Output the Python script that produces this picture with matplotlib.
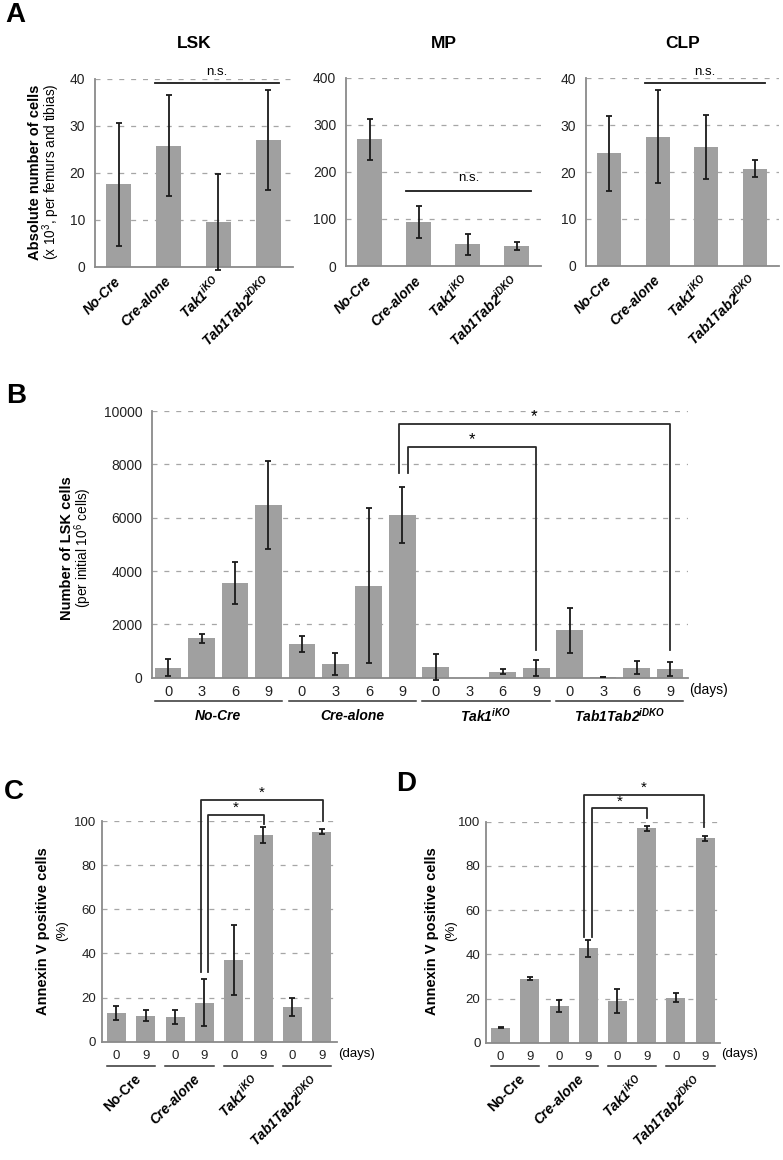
import numpy as np
import matplotlib.pyplot as plt

plt.rcParams['font.family'] = ['Liberation Sans', 'DejaVu Sans']
plt.rcParams['mathtext.fontset'] = 'custom'
plt.rcParams['mathtext.rm'] = 'Liberation Sans'
plt.rcParams['mathtext.it'] = 'Liberation Sans:italic'
plt.rcParams['mathtext.bf'] = 'Liberation Sans:bold'
plt.rcParams['mathtext.bfit'] = 'Liberation Sans:italic:bold'

# ---- data ----
TAK = r'$\mathbfit{Tak1}^{\mathbfit{iKO}}$'
TAB = r'$\mathbfit{Tab1Tab2}^{\mathbfit{iDKO}}$'
groups = ['No-Cre', 'Cre-alone', TAK, TAB]

# panel A (x 10^3 cells)
lsk_mean = [17.5, 25.7, 9.5, 26.9]
lsk_err = [13.0, 10.7, 10.2, 10.6]
mp_mean = [269, 93, 46, 42]
mp_err = [43, 34, 22, 9]
clp_mean = [24.0, 27.5, 25.3, 20.7]
clp_err = [8.0, 9.9, 6.8, 1.8]

# panel B (LSK cells per initial 10^6 cells, days 0/3/6/9)
days_b = ['0', '3', '6', '9']
lsk_culture_mean = [380, 1470, 3540, 6470,
                    1260, 510, 3450, 6100,
                    400, 0, 230, 370,
                    1780, 20, 380, 320]
lsk_culture_err = [330, 170, 780, 1660,
                   300, 420, 2900, 1050,
                   500, 0, 95, 310,
                   840, 10, 255, 275]

# panels C and D (Annexin V positive %, days 0/9)
days_cd = ['0', '9']
annexin_c_mean = [12.9, 11.8, 11.3, 17.7, 37.0, 93.7, 15.6, 95.2]
annexin_c_err = [3.2, 2.6, 3.1, 10.5, 16.0, 3.5, 4.0, 1.0]
annexin_d_mean = [6.8, 29.0, 16.6, 42.7, 19.0, 97.0, 20.4, 92.5]
annexin_d_err = [0.3, 0.6, 2.5, 3.8, 5.5, 1.0, 1.9, 1.2]

W, H = 783, 1160
BAR = '#a0a0a0'
GRID = '#a6a6a6'
SPINE = '#8a8a8a'

fig = plt.figure(figsize=(W / 100, H / 100), dpi=100)


def add_ax(x0, x1, ytop, ybot):
    ax = fig.add_axes([x0 / W, 1 - ybot / H, (x1 - x0) / W, (ybot - ytop) / H])
    for s in ['top', 'right']:
        ax.spines[s].set_visible(False)
    for s in ['left', 'bottom']:
        ax.spines[s].set_color(SPINE)
        ax.spines[s].set_linewidth(1.3)
    ax.yaxis.grid(True, linestyle=(0, (4, 5.5)), color=GRID, lw=0.9)
    ax.set_axisbelow(True)
    ax.tick_params(length=0)
    return ax


def ypx(ax, py):
    pos = ax.get_position()
    bottom = (1 - pos.y0) * H
    return (bottom - py) / (pos.height * H)


def bars(ax, vals, errs, width):
    x = np.arange(len(vals))
    vals = np.array(vals, dtype=float)
    errs = np.array(errs, dtype=float)
    ax.bar(x, vals, width, color=BAR, zorder=2)
    m = errs > 0
    eb = ax.errorbar(x[m], vals[m], yerr=errs[m], fmt='none', ecolor='#1a1a1a',
                     elinewidth=1.3, capsize=2.5, capthick=1.3, zorder=3)
    for a in list(eb.lines[1]) + list(eb.lines[2]):
        a.set_clip_on(False)


def bracket(ax, x1, x2, ytop, yl, yr, size=12):
    ax.plot([x1, x1, x2, x2], [yl, ytop, ytop, yr], color='#2a2a2a', lw=1.3,
            clip_on=False, zorder=4)
    ax.text((x1 + x2) / 2, ytop, '*', ha='center', va='bottom', fontsize=size)


def ns(ax, x1, x2, y, ty):
    ax.plot([x1, x2], [y, y], color='#1a1a1a', lw=1.3, clip_on=False)
    ax.text((x1 + x2) / 2, ty, 'n.s.', ha='center', va='center', fontsize=9.5)


# ---------------- Panel A ----------------
boxes = [(95, 293, 78.5, 266.7), (346, 541, 77.7, 266), (586, 779, 78.3, 265.7)]
titles = ['LSK', 'MP', 'CLP']
means = [lsk_mean, mp_mean, clp_mean]
errs = [lsk_err, mp_err, clp_err]
ymaxs = [40, 400, 40]
for i in range(3):
    ax = add_ax(*boxes[i])
    bars(ax, means[i], errs[i], 0.5)
    ax.set_xlim(-0.48, 3.5)
    ax.set_ylim(0, ymaxs[i])
    ax.set_yticks(np.linspace(0, ymaxs[i], 5))
    ax.tick_params(axis='y', labelsize=10, pad=7, colors='#222222')
    ax.set_xticks(range(4))
    ax.set_xticklabels(groups, rotation=45, ha='right', va='center',
                       rotation_mode='anchor', fontsize=10,
                       fontweight='bold', fontstyle='italic')
    ax.tick_params(axis='x', pad=9)
    x0, x1 = boxes[i][0], boxes[i][1]
    fig.text((x0 + x1) / 2 / W, 1 - 43 / H, titles[i], ha='center', va='center',
             fontsize=12.5, fontweight='bold')
    if i == 1:
        ns(ax, 0.75, 3.29, 160, 187)
    else:
        ns(ax, 0.73, 3.22, 39.1, 41.3)

fig.text(35 / W, 1 - 172 / H, 'Absolute number of cells', rotation=90,
         ha='center', va='center', fontsize=10.5, fontweight='bold')
fig.text(51 / W, 1 - 172 / H, r'(x 10$^3$, per femurs and tibias)', rotation=90,
         ha='center', va='center', fontsize=9.8)

# ---------------- Panel B ----------------
axb = add_ax(151.7, 687.7, 411, 677.7)
bars(axb, lsk_culture_mean, lsk_culture_err, 0.8)
axb.set_xlim(-0.49, 15.53)
axb.set_ylim(0, 10000)
axb.set_yticks(np.arange(0, 10001, 2000))
axb.tick_params(axis='y', labelsize=10, pad=6.5, colors='#222222')
axb.set_xticks(range(16))
axb.set_xticklabels(days_b * 4, fontsize=10.5)
axb.tick_params(axis='x', pad=5, colors='#222222')
tr = axb.get_xaxis_transform()
b_groups = ['No-Cre', 'Cre-alone', TAK, TAB]
for g in range(4):
    c = g * 4 + 1.5
    axb.plot([c - 1.9, c + 1.9], [ypx(axb, 701)] * 2, color='#333333', lw=1.1,
             transform=tr, clip_on=False)
    axb.text(c, ypx(axb, 716), b_groups[g], transform=tr, ha='center', va='center',
             fontsize=10, fontweight='bold', fontstyle='italic')
axb.text(1.003, ypx(axb, 690), '(days)', transform=axb.transAxes, ha='left',
         va='center', fontsize=10)
bracket(axb, 6.89, 15.0, 9514, 7665, 1040)
bracket(axb, 7.16, 11.0, 8663, 7665, 1040)
fig.text(67 / W, 1 - 548 / H, 'Number of LSK cells', rotation=90, ha='center',
         va='center', fontsize=10.5, fontweight='bold')
fig.text(83 / W, 1 - 548 / H, r'(per initial 10$^6$ cells)', rotation=90,
         ha='center', va='center', fontsize=9.8)

# ---------------- Panels C and D ----------------
cd_groups = ['No-Cre', 'Cre-alone', TAK, TAB]
cd = [((101.7, 336.7, 821, 1041.7), annexin_c_mean, annexin_c_err,
       [(2.9, 7.03, 109.6, 31.5, 99.8), (3.13, 5.04, 102.8, 31.5, 98.7)], 43),
      ((486, 720, 821.7, 1042.7), annexin_d_mean, annexin_d_err,
       [(2.86, 6.96, 112, 48, 97.7), (3.12, 5.02, 106, 48, 101.5)], 432)]
for bx, mean, err, brs, ylx in cd:
    ax = add_ax(*bx)
    bars(ax, mean, err, 0.65)
    ax.set_xlim(-0.5, 7.51)
    ax.set_ylim(0, 100)
    ax.set_yticks(np.arange(0, 101, 20))
    ax.tick_params(axis='y', labelsize=9.5, pad=4, colors='#222222')
    ax.set_xticks(range(8))
    ax.set_xticklabels(days_cd * 4, fontsize=9.5)
    ax.tick_params(axis='x', pad=6, colors='#222222')
    tr = ax.get_xaxis_transform()
    for g in range(4):
        c = g * 2 + 0.5
        ax.plot([c - 0.83, c + 0.83], [ypx(ax, 1065.5)] * 2, color='#333333',
                lw=1.1, transform=tr, clip_on=False)
        ax.text(c + 0.1, ypx(ax, 1072), cd_groups[g], transform=tr, ha='right',
                va='top', rotation=45, rotation_mode='anchor', fontsize=10,
                fontweight='bold', fontstyle='normal' if g == 0 else 'italic')
    ax.text(1.005, ypx(ax, 1054), '(days)', transform=ax.transAxes, ha='left',
            va='center', fontsize=9.5)
    for b in brs:
        bracket(ax, *b, size=11)
    fig.text(ylx / W, 1 - 931 / H, 'Annexin V positive cells', rotation=90,
             ha='center', va='center', fontsize=10.5, fontweight='bold')
    fig.text((ylx + 19) / W, 1 - 931 / H, '(%)', rotation=90,
             ha='center', va='center', fontsize=9.5)

# panel letters
for lab, x, y in [('A', 15, 15), ('B', 16, 396), ('C', 14, 792), ('D', 406, 784)]:
    fig.text(x / W, 1 - y / H, lab, ha='center', va='center', fontsize=20,
             fontweight='bold')

fig.savefig('out.png', dpi=100, facecolor='white')
